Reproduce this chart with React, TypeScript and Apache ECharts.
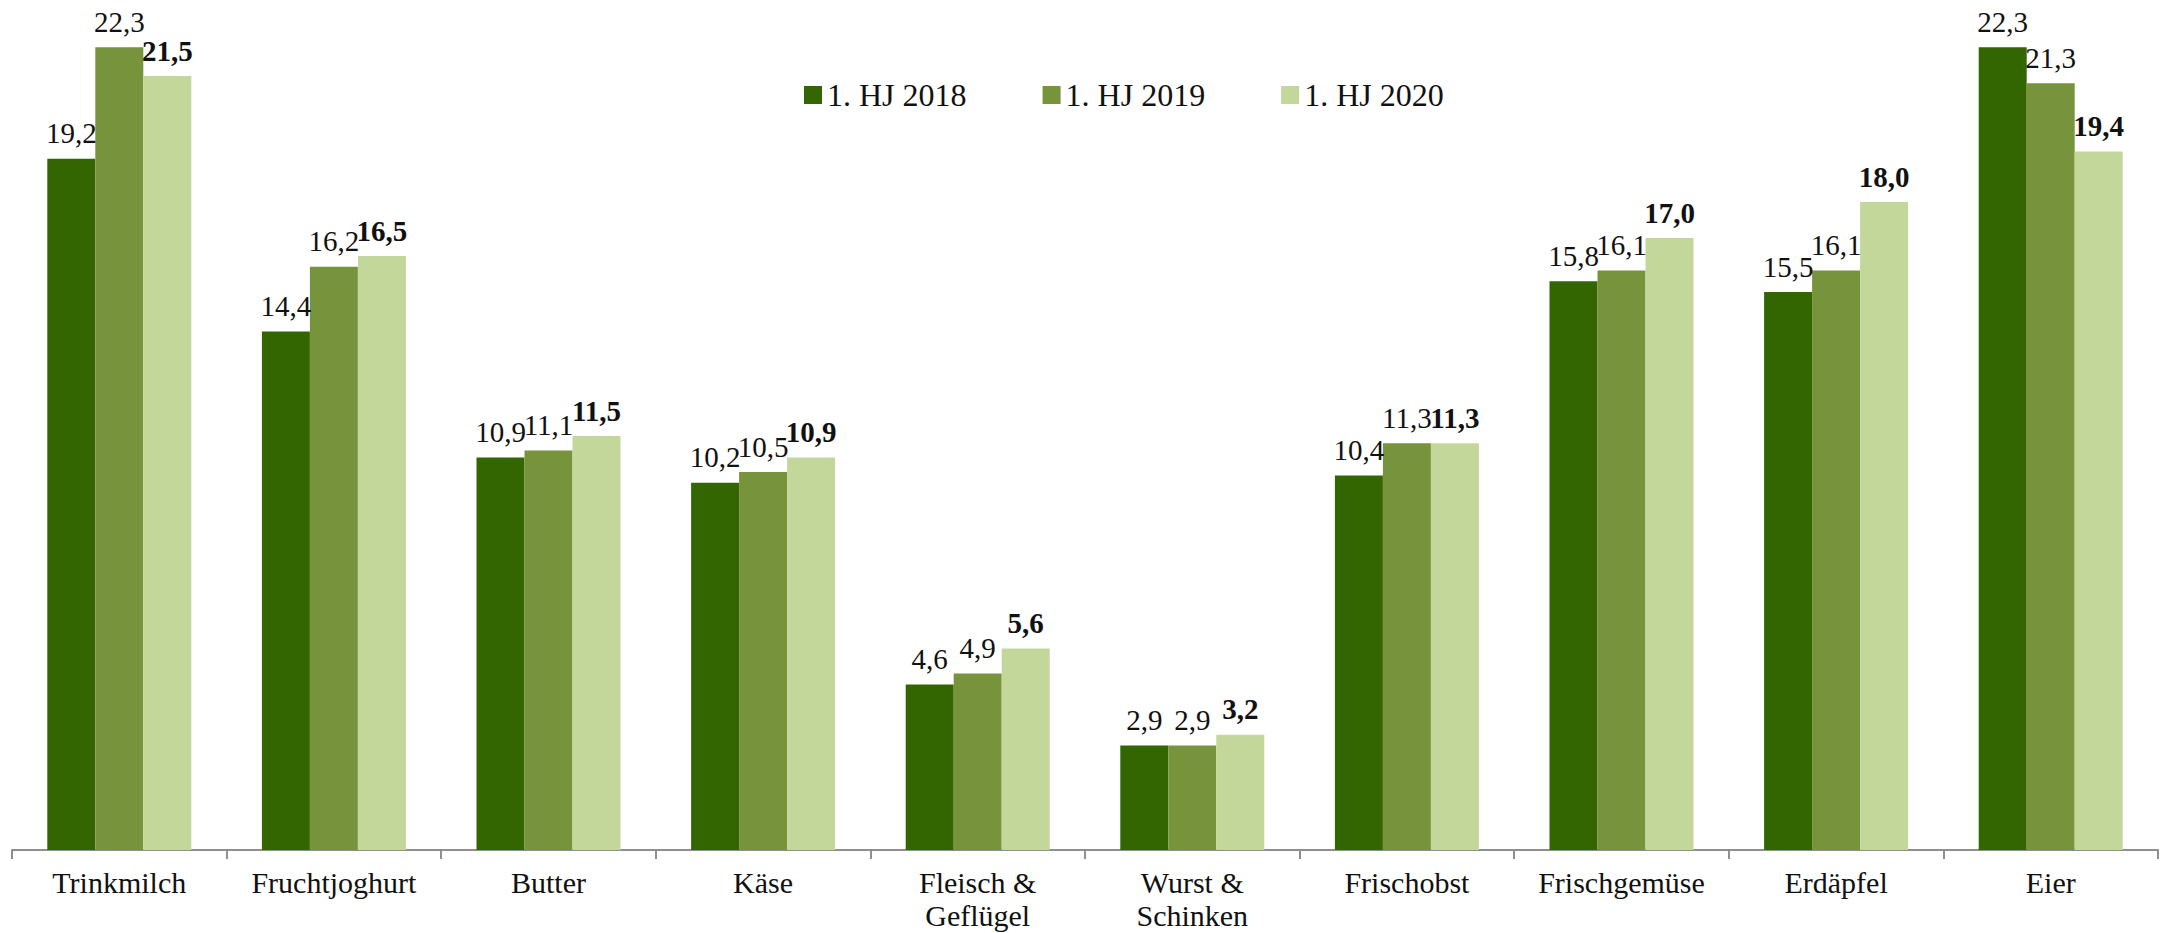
import React, { useEffect, useRef } from "react";
import * as echarts from "echarts";

const categories = [
  "Trinkmilch",
  "Fruchtjoghurt",
  "Butter",
  "Käse",
  "Fleisch &\nGeflügel",
  "Wurst &\nSchinken",
  "Frischobst",
  "Frischgemüse",
  "Erdäpfel",
  "Eier",
];
const seriesNames = ["1. HJ 2018", "1. HJ 2019", "1. HJ 2020"];
const values2018 = [19.2, 14.4, 10.9, 10.2, 4.6, 2.9, 10.4, 15.8, 15.5, 22.3];
const values2019 = [22.3, 16.2, 11.1, 10.5, 4.9, 2.9, 11.3, 16.1, 16.1, 21.3];
const values2020 = [21.5, 16.5, 11.5, 10.9, 5.6, 3.2, 11.3, 17.0, 18.0, 19.4];
const colors = ["#336600", "#77933C", "#C4D79B"];

const FONT = "Liberation Serif";

export default function App() {
  const ref = useRef<HTMLDivElement>(null);
  useEffect(() => {
    if (!ref.current) return;
    const chart = echarts.init(ref.current, undefined, { renderer: "svg" });
    const fmt = (p: any) => String(Number(p.value).toFixed(1)).replace(".", ",");
    const mk = (name: string, data: number[], i: number) => ({
      name,
      type: "bar",
      data,
      barWidth: 48,
      barGap: "0%",
      itemStyle: { color: colors[i] },
      label: {
        show: true,
        position: "top",
        distance: 11,
        formatter: fmt,
        fontFamily: FONT,
        fontSize: 29,
        fontWeight: i === 2 ? "bold" : "normal",
        color: "#111",
      },
    });
    chart.setOption({
      animation: false,
      backgroundColor: "#ffffff",
      textStyle: { fontFamily: FONT },
      legend: {
        data: seriesNames,
        left: 799,
        top: 74,
        padding: 5,
        itemWidth: 18,
        itemHeight: 18,
        itemGap: 76,
        icon: "rect",
        textStyle: { fontFamily: FONT, fontSize: 32, color: "#111" },
      },
      grid: { left: 12, right: 12, top: 22, bottom: 83, containLabel: false },
      xAxis: {
        type: "category",
        data: categories,
        axisLine: { lineStyle: { color: "#8f8f8f", width: 2 } },
        axisTick: { show: true, length: 9, lineStyle: { color: "#8f8f8f", width: 2 } },
        axisLabel: {
          interval: 0,
          margin: 16,
          fontFamily: FONT,
          fontSize: 30,
          lineHeight: 33,
          color: "#111",
        },
      },
      yAxis: {
        type: "value",
        min: 0,
        max: 23,
        show: false,
        splitLine: { show: false },
      },
      series: [
        mk(seriesNames[0], values2018, 0),
        mk(seriesNames[1], values2019, 1),
        mk(seriesNames[2], values2020, 2),
      ],
    });
    return () => chart.dispose();
  }, []);
  return (
    <div
      ref={ref}
      style={{ position: "fixed", left: 0, top: 0, width: 2170, height: 933 }}
    />
  );
}
